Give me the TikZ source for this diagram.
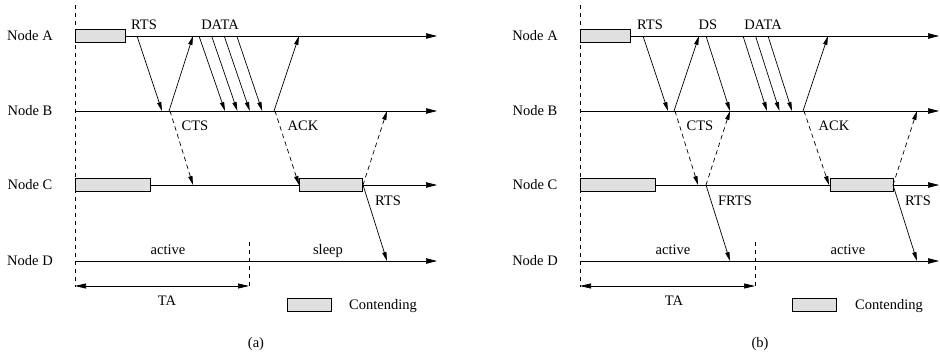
\documentclass[tikz,border=0pt]{standalone}
\usepackage{fontspec}
\setmainfont{Liberation Serif}
\usetikzlibrary{arrows.meta}
\tikzset{
    timeline/.style={line width=0.7pt, -{Triangle[length=11pt,width=5.5pt]}},
    msg/.style={line width=0.7pt, -{Triangle[length=9pt,width=4.2pt]}},
    overheard/.style={msg, dash pattern=on 4.5pt off 3.5pt},
    boundary/.style={line width=0.7pt, dash pattern=on 4.5pt off 3.5pt},
    span/.style={line width=0.7pt, {Triangle[length=11pt,width=5pt]}-{Triangle[length=11pt,width=5pt]}},
    contend/.style={draw, fill=black!12, line width=0.7pt, inner sep=0pt, minimum height=13pt},
    lbl/.style={font=\fontsize{14.5}{16}\selectfont, inner sep=0pt},
}
\begin{document}
\begin{tikzpicture}[x=1pt, y=-1pt]
    \useasboundingbox (0,0) rectangle (940,355);

    % ---------------- panel (a) ----------------
    \coordinate (aTop) at (75,5);
    \coordinate (aBot) at (75,287);
    \draw[boundary] (aTop) -- (aBot);
    \foreach \n/\y in {A/36, B/111, C/185, D/261} {
        \node[lbl] (aN\n) at (30,\y) {Node \n};
        \coordinate (aL\n) at (75,\y);
        \coordinate (aR\n) at (437,\y);
        \draw[timeline] (aL\n) -- (aR\n);
    }
    \node[contend, minimum width=50pt] (aBusyA) at (100,36) {};
    \node[contend, minimum width=75pt] (aBusyC1) at (112.5,185) {};
    \node[contend, minimum width=63pt] (aBusyC2) at (330.5,185) {};

    \coordinate (aRtsS) at (137,36);  \coordinate (aRtsE) at (162,111);
    \coordinate (aCtsS) at (169,111); \coordinate (aCtsE) at (193,36);
    \coordinate (aAckS) at (274,111); \coordinate (aAckE) at (299,36);
    \draw[msg] (aRtsS) -- (aRtsE);
    \draw[msg] (aCtsS) -- (aCtsE);
    \draw[msg] (aAckS) -- (aAckE);
    \foreach \i in {0,...,3} {
        \coordinate (aD\i-s) at ({199+12.6*\i},36);
        \coordinate (aD\i-e) at ({225+12.4*\i},111);
        \draw[msg] (aD\i-s) -- (aD\i-e);
    }
    \coordinate (aOv1S) at (170,111); \coordinate (aOv1E) at (193,185);
    \coordinate (aOv2S) at (275,111); \coordinate (aOv2E) at (299,185);
    \coordinate (aOv3S) at (363,185); \coordinate (aOv3E) at (387,111);
    \draw[overheard] (aOv1S) -- (aOv1E);
    \draw[overheard] (aOv2S) -- (aOv2E);
    \draw[overheard] (aOv3S) -- (aOv3E);
    \coordinate (aRts2S) at (363,185); \coordinate (aRts2E) at (387,261);
    \draw[msg] (aRts2S) -- (aRts2E);

    \node[lbl] (aTRts) at (144,25) {RTS};
    \node[lbl] (aTData) at (220,25) {DATA};
    \node[lbl] (aTCts) at (195,126) {CTS};
    \node[lbl] (aTAck) at (303,126) {ACK};
    \node[lbl] (aTRts2) at (388,201) {RTS};
    \node[lbl] (aTAct) at (168,250) {active};
    \node[lbl] (aTSleep) at (328,251) {sleep};

    \coordinate (aTaTop) at (249,242); \coordinate (aTaBot) at (249,287);
    \draw[boundary] (aTaTop) -- (aTaBot);
    \coordinate (aTaL) at (75,286); \coordinate (aTaR) at (249,286);
    \draw[span] (aTaL) -- (aTaR);
    \node[lbl] (aTTa) at (167,301) {TA};
    \node[contend, minimum width=44pt] (aKey) at (309,305) {};
    \node[lbl] (aTKey) at (383,306) {Contending};
    \node[lbl] (aCap) at (256,344) {(a)};

    % ---------------- panel (b) ----------------
    \coordinate (bTop) at (580,5);
    \coordinate (bBot) at (580,287);
    \draw[boundary] (bTop) -- (bBot);
    \foreach \n/\y in {A/36, B/111, C/185, D/261} {
        \node[lbl] (bN\n) at (535,\y) {Node \n};
        \coordinate (bL\n) at (580,\y);
        \coordinate (bR\n) at (939,\y);
        \draw[timeline] (bL\n) -- (bR\n);
    }
    \node[contend, minimum width=50pt] (bBusyA) at (605,36) {};
    \node[contend, minimum width=75pt] (bBusyC1) at (617.5,185) {};
    \node[contend, minimum width=63pt] (bBusyC2) at (861.5,185) {};

    \coordinate (bRtsS) at (643,36);  \coordinate (bRtsE) at (668,111);
    \coordinate (bCtsS) at (674,111); \coordinate (bCtsE) at (699,36);
    \coordinate (bDsS) at (706,36);   \coordinate (bDsE) at (730,111);
    \coordinate (bAckS) at (803,111); \coordinate (bAckE) at (828,36);
    \draw[msg] (bRtsS) -- (bRtsE);
    \draw[msg] (bCtsS) -- (bCtsE);
    \draw[msg] (bDsS) -- (bDsE);
    \draw[msg] (bAckS) -- (bAckE);
    \foreach \i in {0,...,2} {
        \coordinate (bD\i-s) at ({743+12.5*\i},36);
        \coordinate (bD\i-e) at ({767+12.5*\i},111);
        \draw[msg] (bD\i-s) -- (bD\i-e);
    }
    \coordinate (bOv1S) at (675,111); \coordinate (bOv1E) at (698,185);
    \coordinate (bOv2S) at (706,185); \coordinate (bOv2E) at (730,111);
    \coordinate (bOv3S) at (804,111); \coordinate (bOv3E) at (829,185);
    \coordinate (bOv4S) at (893,185); \coordinate (bOv4E) at (917,111);
    \draw[overheard] (bOv1S) -- (bOv1E);
    \draw[overheard] (bOv2S) -- (bOv2E);
    \draw[overheard] (bOv3S) -- (bOv3E);
    \draw[overheard] (bOv4S) -- (bOv4E);
    \coordinate (bFrtsS) at (706,185); \coordinate (bFrtsE) at (730,261);
    \coordinate (bRts2S) at (893,185); \coordinate (bRts2E) at (917,261);
    \draw[msg] (bFrtsS) -- (bFrtsE);
    \draw[msg] (bRts2S) -- (bRts2E);

    \node[lbl] (bTRts) at (650,25) {RTS};
    \node[lbl] (bTDs) at (708,25) {DS};
    \node[lbl] (bTData) at (763,25) {DATA};
    \node[lbl] (bTCts) at (700,126) {CTS};
    \node[lbl] (bTAck) at (834,126) {ACK};
    \node[lbl] (bTFrts) at (735,201) {FRTS};
    \node[lbl] (bTRts2) at (918,201) {RTS};
    \node[lbl] (bTAct1) at (673,250) {active};
    \node[lbl] (bTAct2) at (848,250) {active};

    \coordinate (bTaTop) at (755,242); \coordinate (bTaBot) at (755,287);
    \draw[boundary] (bTaTop) -- (bTaBot);
    \coordinate (bTaL) at (580,286); \coordinate (bTaR) at (755,286);
    \draw[span] (bTaL) -- (bTaR);
    \node[lbl] (bTTa) at (674,301) {TA};
    \node[contend, minimum width=44pt] (bKey) at (814,305) {};
    \node[lbl] (bTKey) at (889,306) {Contending};
    \node[lbl] (bCap) at (760,344) {(b)};
\end{tikzpicture}
\end{document}
